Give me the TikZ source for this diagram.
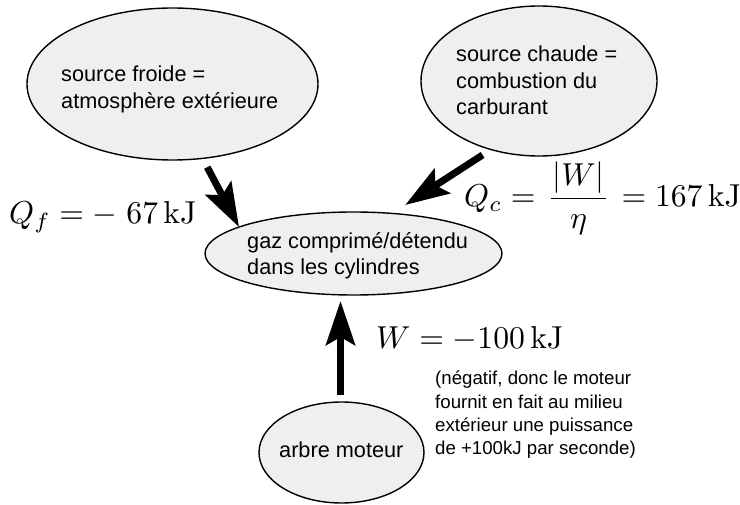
\documentclass[tikz,border=0pt]{standalone}
\usepackage[no-math]{fontspec}
\usepackage{graphicx}
\setmainfont{Liberation Sans}
\usetikzlibrary{arrows.meta,shapes.geometric,calc}
\definecolor{bubblegray}{HTML}{EFEFEF}
\begin{document}
\begin{tikzpicture}[x=1pt,y=-1pt,
  bubble/.style={ellipse, draw=black, line width=1.4pt, fill=bubblegray, inner sep=0pt, outer sep=0pt},
  txt/.style={anchor=base west, inner sep=0pt, font=\fontsize{21.7}{26.3}\selectfont},
  smalltxt/.style={anchor=base west, inner sep=0pt, font=\fontsize{18.65}{23.3}\selectfont},
  mathlbl/.style={anchor=base west, inner sep=0pt},
  bigarrow/.style={line width=7pt, -{Stealth[length=44pt,width=29pt,inset=8pt]}}]
\useasboundingbox (0,0) rectangle (740,505);

% ellipses
\node[bubble, minimum width=291pt, minimum height=152pt] (cold) at (172.5,84) {};
\node[bubble, minimum width=236pt, minimum height=150pt] (hot) at (539,81) {};
\node[bubble, minimum width=297pt, minimum height=83pt] (mid) at (353.5,253.5) {};
\node[bubble, minimum width=165pt, minimum height=101pt] (bot) at (341.5,452.5) {};

% texts in ellipses
\node[txt] (coldtxt) at (61,82) {\begin{tabular}[t]{@{}l@{}}source froide =\\atmosphère extérieure\end{tabular}};
\node[txt, font=\fontsize{21.7}{26.5}\selectfont] (hottxt) at (456,62) {\begin{tabular}[t]{@{}l@{}}source chaude =\\combustion du\\carburant\end{tabular}};
\node[txt, font=\fontsize{21.7}{26}\selectfont] (midtxt) at (247,248.5) {\begin{tabular}[t]{@{}l@{}}gaz comprimé/détendu\\dans les cylindres\end{tabular}};
\node[txt] (bottxt) at (279,457.5) {arbre moteur};

% math labels
\node[mathlbl] (qf) at (9,224) {\scalebox{3.17}{$Q_f = -\;67\,\mathrm{kJ}$}};
\node[mathlbl] (qc) at (464,206.5) {\scalebox{3.17}{$Q_c = \mkern1.5mu\displaystyle\frac{\mkern1mu|W|\mkern1mu}{\eta}\mkern1.5mu = 167\,\mathrm{kJ}$}};
\node[mathlbl] (w) at (376,348.5) {\scalebox{3.17}{$W = -100\,\mathrm{kJ}$}};
\node[smalltxt] (note) at (435,385) {\begin{tabular}[t]{@{}l@{}}(négatif, donc le moteur\\fournit en fait au milieu\\extérieur une puissance\\de +100kJ par seconde)\end{tabular}};

% arrows
\draw[bigarrow, shorten <=10pt] (cold.-68) -- (mid.167.2);
\draw[bigarrow, shorten <=10pt, shorten >=15.5pt] (hot.-125.3) -- (mid.46.2);
\coordinate (wstart) at ($(bot.north)+(-1,0)$);
\draw[bigarrow, shorten <=7pt, shorten >=6pt] (wstart) -- (wstart |- mid.south);
\end{tikzpicture}
\end{document}
